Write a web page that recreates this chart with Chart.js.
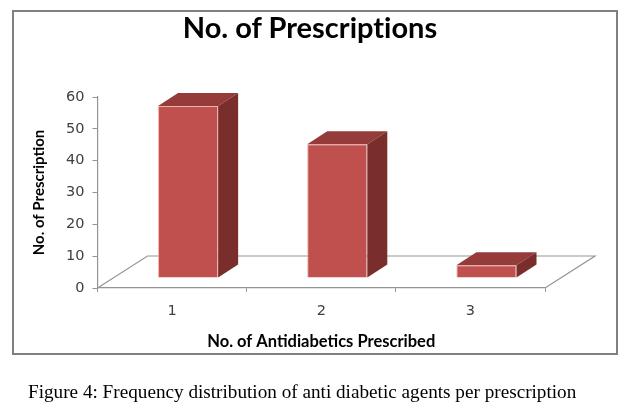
<!DOCTYPE html>
<html>
<head>
<meta charset="utf-8">
<script src="https://cdn.jsdelivr.net/npm/chart.js@4.4.1/dist/chart.umd.min.js"></script>
<style>
  html, body { margin: 0; padding: 0; background: #fff; }
  #page { position: relative; width: 634px; height: 413px; overflow: hidden; }
  #wrap { position: absolute; left: 0; top: 0; width: 634px; height: 413px; }
  #frame { position: absolute; left: 12px; top: 10px; width: 606px; height: 345px;
           box-sizing: border-box; border: 2px solid #808080; pointer-events: none; }
  #title { position: absolute; left: 12px; top: 10px; width: 596px; text-align: center;
           font: bold 29px Lato, sans-serif; line-height: 34px; color: #000;
           font-variant-ligatures: none; }
  #caption { position: absolute; left: 28px; top: 381px; white-space: nowrap;
             font: 19.2px "Liberation Serif", serif; line-height: 22px; color: #000; }
</style>
</head>
<body>
<div id="page">
  <div id="wrap"><canvas id="prescChart"></canvas></div>
  <div id="frame"></div>
  <div id="title">No. of Prescriptions</div>
  <div id="caption">Figure 4: Frequency distribution of anti diabetic agents per prescription</div>
</div>
<script>
//Chart data
const categories = ['1', '2', '3'];
const prescriptions = [54, 42, 4];
const yTicks = [0, 10, 20, 30, 40, 50, 60];

//Colours
const frontColour = '#c0504d';
const topColour = '#953b39';
const sideColour = '#7a2e2c';
const axisGrey = '#959595';
const labelColour = '#404040';

//Fake 3D offsets (px)
const floorDX = 50, floorDY = -32;
const barShiftX = 16, barShiftY = -10;
const sideDX = 20, sideDY = -13;

//Draws the floor outline, pushes the bars back and adds top + side faces
const depth3d = {
    id: 'depth3d',
    beforeDatasetsDraw(chart) {
        const {ctx, chartArea: a} = chart;
        ctx.save();
        ctx.strokeStyle = axisGrey;
        ctx.lineWidth = 1.2;
        ctx.beginPath();
        ctx.moveTo(a.left, a.bottom);
        ctx.lineTo(a.left + floorDX, a.bottom + floorDY);
        ctx.lineTo(a.right + floorDX, a.bottom + floorDY);
        ctx.lineTo(a.right, a.bottom);
        ctx.stroke();
        ctx.restore();
        ctx.save();
        ctx.translate(barShiftX, barShiftY);
    },
    afterDatasetsDraw(chart) {
        const ctx = chart.ctx;
        ctx.restore();
        ctx.save();
        chart.getDatasetMeta(0).data.forEach(function(bar) {
            const {x, y, base, width} = bar.getProps(['x', 'y', 'base', 'width'], true);
            const l = x - width / 2 + barShiftX;
            const r = x + width / 2 + barShiftX;
            const t = y + barShiftY;
            const b = base + barShiftY;
            // top face
            ctx.fillStyle = topColour;
            ctx.beginPath();
            ctx.moveTo(l, t);
            ctx.lineTo(l + sideDX, t + sideDY);
            ctx.lineTo(r + sideDX, t + sideDY);
            ctx.lineTo(r, t);
            ctx.closePath();
            ctx.fill();
            // side face
            ctx.fillStyle = sideColour;
            ctx.beginPath();
            ctx.moveTo(r, t);
            ctx.lineTo(r + sideDX, t + sideDY);
            ctx.lineTo(r + sideDX, b + sideDY);
            ctx.lineTo(r, b);
            ctx.closePath();
            ctx.fill();
        });
        ctx.restore();
    }
};

const prescChart = new Chart(
    document.getElementById('prescChart'),
    {
        type: 'bar',
        data: {
            labels: categories,
            datasets: [{
                label: 'No. of Prescription',
                data: prescriptions,
                backgroundColor: frontColour,
                borderColor: 'rgba(236, 170, 168, 0.9)',
                borderWidth: 1,
                barPercentage: 0.403,
                categoryPercentage: 1,
            }]
        },
        options: {
            responsive: true,
            maintainAspectRatio: false,
            animation: false,
            layout: {
                padding: {top: 97, left: 12, right: 89, bottom: 40}
            },
            plugins: {
                legend: {display: false},
                tooltip: {enabled: false},
            },
            scales: {
                x: {
                    afterFit(scale) { scale.height = 85; },
                    grid: {
                        offset: true,
                        drawOnChartArea: false,
                        tickLength: 4,
                        color: axisGrey,
                    },
                    border: {color: axisGrey, width: 1.2},
                    ticks: {
                        padding: 11,
                        color: labelColour,
                        font: {family: 'DejaVu Sans', size: 14.5},
                    },
                    title: {
                        display: true,
                        text: 'No. of Antidiabetics Prescribed',
                        color: '#000',
                        font: {family: 'Lato', size: 16.5, weight: 'bold'},
                        padding: {top: 0, bottom: 21},
                    },
                },
                y: {
                    afterFit(scale) { scale.width = 85.5; },
                    min: yTicks[0],
                    max: yTicks[yTicks.length - 1],
                    ticks: {
                        stepSize: yTicks[1] - yTicks[0],
                        padding: 8,
                        color: labelColour,
                        font: {family: 'DejaVu Sans', size: 14.5},
                    },
                    grid: {
                        drawOnChartArea: false,
                        tickLength: 5,
                        color: axisGrey,
                    },
                    border: {color: axisGrey, width: 1.2},
                    title: {
                        display: true,
                        text: 'No. of Prescription',
                        color: '#000',
                        font: {family: 'Lato', size: 15, weight: 'bold'},
                        padding: {top: 18, bottom: 0},
                    },
                },
            },
        },
        plugins: [depth3d],
    }
);
</script>
</body>
</html>
